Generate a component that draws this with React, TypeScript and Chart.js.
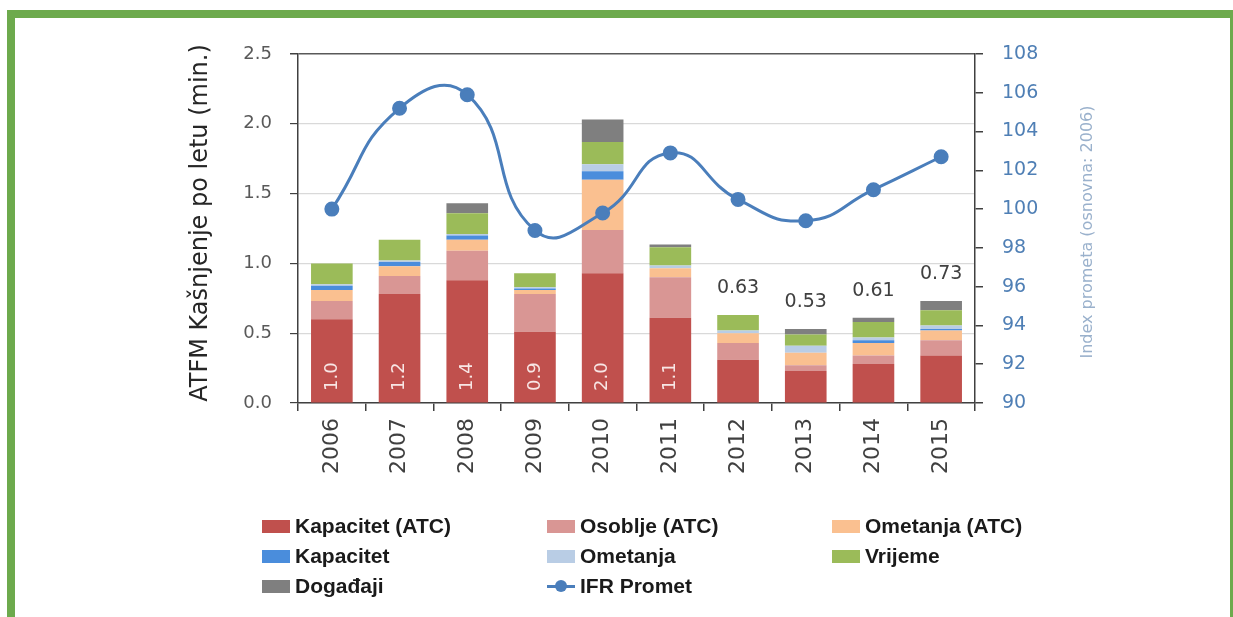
import React, { useEffect, useRef } from 'react';
import { Chart, registerables } from 'chart.js';

Chart.register(...registerables);

// ---------- data ----------
const years = ['2006', '2007', '2008', '2009', '2010', '2011', '2012', '2013', '2014', '2015'];
const kapacitetATC = [0.60, 0.78, 0.88, 0.51, 0.93, 0.61, 0.31, 0.23, 0.28, 0.34];
const osobljeATC = [0.13, 0.13, 0.21, 0.27, 0.31, 0.29, 0.12, 0.04, 0.06, 0.11];
const ometanjaATC = [0.08, 0.07, 0.08, 0.03, 0.36, 0.065, 0.07, 0.09, 0.09, 0.07];
const kapacitet = [0.03, 0.03, 0.03, 0.01, 0.06, 0.0, 0.0, 0.0, 0.02, 0.01];
const ometanja = [0.01, 0.01, 0.01, 0.01, 0.05, 0.02, 0.02, 0.05, 0.02, 0.025];
const vrijeme = [0.15, 0.15, 0.15, 0.10, 0.16, 0.13, 0.11, 0.08, 0.11, 0.11];
const dogadjaji = [0.0, 0.0, 0.07, 0.0, 0.16, 0.02, 0.0, 0.04, 0.03, 0.065];
const ifrPromet = [100.0, 105.2, 105.9, 98.9, 99.8, 102.9, 100.5, 99.4, 101.0, 102.7];
const totalLabels = ['1.0', '1.2', '1.4', '0.9', '2.0', '1.1', '0.63', '0.53', '0.61', '0.73'];
const labelInside = [true, true, true, true, true, true, false, false, false, false];

const leftTitle = 'ATFM Kašnjenje po letu (min.)';
const rightTitle = 'Index prometa (osnovna: 2006)';

const barSeries = [
  { label: 'Kapacitet (ATC)', data: kapacitetATC, color: '#C0504D' },
  { label: 'Osoblje (ATC)', data: osobljeATC, color: '#D99694' },
  { label: 'Ometanja (ATC)', data: ometanjaATC, color: '#FAC090' },
  { label: 'Kapacitet', data: kapacitet, color: '#4A8DDC' },
  { label: 'Ometanja', data: ometanja, color: '#B9CDE5' },
  { label: 'Vrijeme', data: vrijeme, color: '#9BBB59' },
  { label: 'Događaji', data: dogadjaji, color: '#7F7F7F' },
];
const lineSeries = { label: 'IFR Promet', data: ifrPromet, color: '#4A7EBB' };

// legend order (3 columns, row-major)
const legendItems = [
  ...barSeries.map((s) => ({ label: s.label, color: s.color, line: false })),
  { label: lineSeries.label, color: lineSeries.color, line: true },
];

// ---------- layout ----------
const W = 1233;
const H = 617;
const PLOT_LEFT = 298;
const PLOT_RIGHT = 975;
const PLOT_TOP = 54;
const PLOT_BOTTOM = 403;
const FONT = '"DejaVu Sans", Verdana, sans-serif';

const overlayPlugin = {
  id: 'overlay',
  afterDatasetsDraw(chart: any) {
    const { ctx, scales } = chart;
    const xs = scales.x;
    const ys = scales.y;
    ctx.save();
    years.forEach((_, i) => {
      const total = barSeries.reduce((s, d) => s + d.data[i], 0);
      const x = xs.getPixelForValue(i);
      if (labelInside[i]) {
        ctx.save();
        ctx.translate(x, ys.getPixelForValue(0) - 12);
        ctx.rotate(-Math.PI / 2);
        ctx.font = `18px ${FONT}`;
        ctx.fillStyle = '#F8E6E5';
        ctx.textAlign = 'left';
        ctx.textBaseline = 'middle';
        ctx.fillText(totalLabels[i], 0, 0);
        ctx.restore();
      } else {
        ctx.font = `19px ${FONT}`;
        ctx.fillStyle = '#404040';
        ctx.textAlign = 'center';
        ctx.textBaseline = 'middle';
        ctx.fillText(totalLabels[i], x, ys.getPixelForValue(total) - 27);
      }
    });
    ctx.restore();
  },
  afterDraw(chart: any) {
    const { ctx } = chart;
    ctx.save();
    ctx.translate(201, 223);
    ctx.rotate(-Math.PI / 2);
    ctx.font = `24px ${FONT}`;
    ctx.fillStyle = '#262626';
    ctx.textAlign = 'center';
    ctx.textBaseline = 'middle';
    ctx.fillText(leftTitle, 0, 0);
    ctx.restore();

    ctx.save();
    ctx.translate(1088, 232);
    ctx.rotate(-Math.PI / 2);
    ctx.font = `16px ${FONT}`;
    ctx.fillStyle = '#9AB1CC';
    ctx.textAlign = 'center';
    ctx.textBaseline = 'middle';
    ctx.fillText(rightTitle, 0, 0);
    ctx.restore();
  },
};

export default function App() {
  const ref = useRef<HTMLCanvasElement>(null);

  useEffect(() => {
    document.body.style.margin = '0';
    const canvas = ref.current;
    if (!canvas) return;
    const chart = new Chart(canvas, {
      type: 'bar',
      data: {
        labels: years,
        datasets: [
          {
            type: 'line',
            label: lineSeries.label,
            data: lineSeries.data,
            yAxisID: 'y1',
            borderColor: lineSeries.color,
            backgroundColor: lineSeries.color,
            pointBackgroundColor: lineSeries.color,
            pointBorderColor: lineSeries.color,
            borderWidth: 3,
            pointRadius: 6,
            tension: 0.5,
            order: 0,
          } as any,
          ...barSeries.map((s) => ({
            type: 'bar' as const,
            label: s.label,
            data: s.data,
            backgroundColor: s.color,
            borderWidth: 0,
            yAxisID: 'y',
            barPercentage: 0.615,
            categoryPercentage: 1,
            order: 1,
          })),
        ],
      },
      options: {
        responsive: false,
        animation: false,
        layout: { padding: { top: PLOT_TOP, left: 0, right: 0, bottom: 0 } },
        plugins: {
          legend: { display: false },
          tooltip: { enabled: false },
          title: { display: false },
        },
        scales: {
          x: {
            stacked: true,
            grid: {
              offset: true,
              drawOnChartArea: false,
              drawTicks: true,
              tickLength: 8,
              color: '#404040',
              lineWidth: 1.5,
            },
            border: { color: '#404040', width: 1.5 },
            ticks: {
              color: '#404040',
              font: { family: FONT, size: 22 },
              minRotation: 90,
              maxRotation: 90,
              autoSkip: false,
              padding: 7,
            },
            afterFit: (s: any) => {
              s.height = H - PLOT_BOTTOM;
            },
          },
          y: {
            stacked: true,
            position: 'left',
            min: 0,
            max: 2.5,
            ticks: {
              stepSize: 0.5,
              color: '#595959',
              font: { family: FONT, size: 18 },
              padding: 18,
              callback: (v: any) => Number(v).toFixed(1),
            },
            grid: {
              color: (c: any) => (c.tick && c.tick.value === 2.5 ? '#595959' : '#D9D9D9'),
              lineWidth: (c: any) => (c.tick && c.tick.value === 2.5 ? 1.5 : 1.2),
              tickColor: '#404040',
              tickLength: 8,
            },
            border: { color: '#404040', width: 1.5 },
            afterFit: (s: any) => {
              s.width = PLOT_LEFT;
            },
          },
          y1: {
            position: 'right',
            min: 90,
            max: 108,
            ticks: {
              stepSize: 2,
              color: '#4F7FB5',
              font: { family: FONT, size: 19 },
              padding: 19,
            },
            grid: {
              drawOnChartArea: false,
              tickLength: 8,
              color: '#404040',
              lineWidth: 1.5,
            },
            border: { color: '#404040', width: 1.5 },
            afterFit: (s: any) => {
              s.width = W - PLOT_RIGHT;
            },
          },
        },
      } as any,
      plugins: [overlayPlugin],
    });
    return () => chart.destroy();
  }, []);

  const colX = [262, 547, 832];
  const rowY = [526, 556, 586];

  return (
    <div
      style={{
        position: 'fixed',
        left: 0,
        top: 0,
        width: W,
        height: H,
        overflow: 'hidden',
        background: '#ffffff',
      }}
    >
      <div
        style={{
          position: 'absolute',
          left: 7,
          top: 10,
          width: 1231,
          height: 700,
          border: '8px solid #6DAA4D',
          boxSizing: 'border-box',
        }}
      />
      <canvas
        ref={ref}
        width={W}
        height={H}
        style={{ position: 'absolute', left: 0, top: 0, width: W, height: H }}
      />
      {legendItems.map((it, i) => {
        const col = i % 3;
        const row = Math.floor(i / 3);
        const x = colX[col];
        const y = rowY[row];
        return (
          <div
            key={it.label + i}
            style={{
              position: 'absolute',
              left: x,
              top: y - 13,
              height: 26,
              display: 'flex',
              alignItems: 'center',
              fontFamily: '"Liberation Sans", Arial, sans-serif',
              fontWeight: 'bold',
              fontSize: 21,
              color: '#1A1A1A',
              whiteSpace: 'nowrap',
            }}
          >
            {it.line ? (
              <div style={{ position: 'relative', width: 28, height: 13, marginRight: 5 }}>
                <div
                  style={{
                    position: 'absolute',
                    left: 0,
                    top: 5,
                    width: 28,
                    height: 3,
                    background: it.color,
                  }}
                />
                <div
                  style={{
                    position: 'absolute',
                    left: 8,
                    top: 0,
                    width: 12,
                    height: 12,
                    borderRadius: 6,
                    background: it.color,
                  }}
                />
              </div>
            ) : (
              <div style={{ width: 28, height: 13, background: it.color, marginRight: 5 }} />
            )}
            <span>{it.label}</span>
          </div>
        );
      })}
    </div>
  );
}
